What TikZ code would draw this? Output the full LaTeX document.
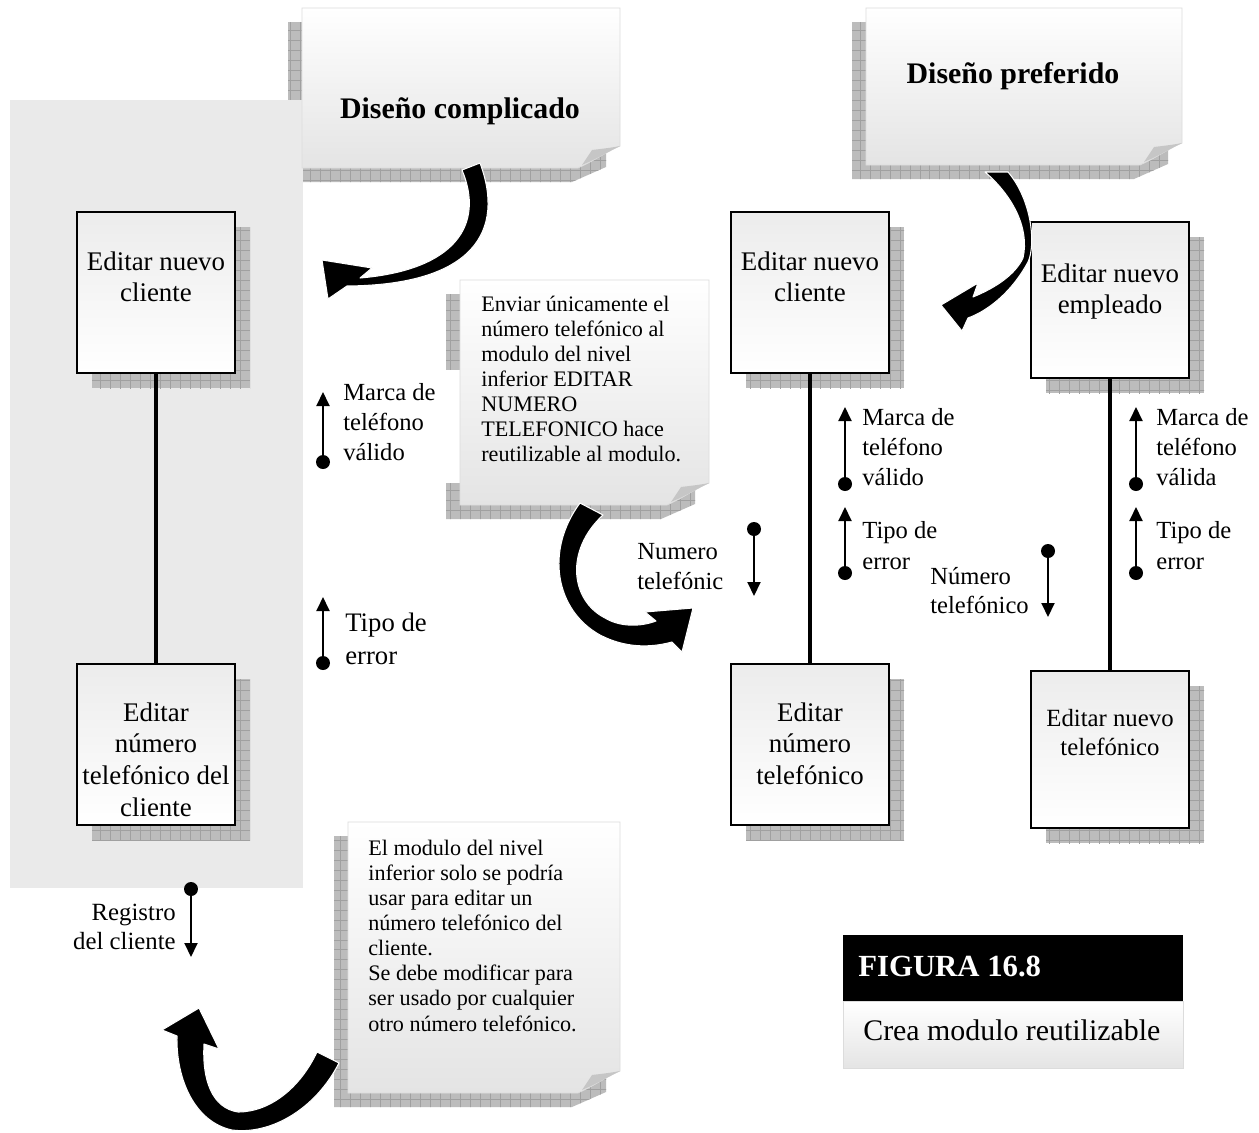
\documentclass[tikz,border=0pt]{standalone}
\usepackage{fontspec}
\setmainfont{Liberation Serif}
\usetikzlibrary{arrows.meta}

\definecolor{panelgray}{RGB}{234,234,234}
\definecolor{meshbase}{RGB}{188,188,188}
\definecolor{meshrule}{RGB}{160,160,160}
\definecolor{sheetedge}{RGB}{220,220,220}
\definecolor{sheetlow}{RGB}{228,228,228}
\definecolor{foldgray}{RGB}{198,198,198}
\definecolor{boxtop}{RGB}{236,236,236}

% hatched drop shadow: grey fill with a 10px mesh, clipped to the given path
\newcommand{\meshpatch}[1]{%
  \fill[meshbase] #1;
  \begin{scope}
    \clip #1;
    \draw[meshrule, line width=0.35pt, step=0.2cm] (0,1133) grid (1259,0);
  \end{scope}}

% shadow of a curled note sheet (offset left and down)
\newcommand{\noteshadow}[4]{%
  \meshpatch{({#1-14},{#2+14}) -- ({#3-14},{#2+14}) -- ({#3-14},{#4-1}) -- ({#3-48},{#4+14}) -- ({#1-14},{#4+14}) -- cycle}}

% note sheet with a curled lower right corner
\newcommand{\notesheet}[4]{%
  \path[sheet] (#1,#2) -- (#3,#2) -- (#3,{#4-22}) .. controls ({#3-14},{#4-16}) and ({#3-28},{#4-6}) .. ({#3-42},{#4}) -- (#1,#4) -- cycle;
  \fill[foldgray] (#3,{#4-22}) .. controls ({#3-10},{#4-20}) and ({#3-20},{#4-19}) .. ({#3-28},{#4-18}) -- ({#3-38},{#4-3}) .. controls ({#3-26},{#4-8}) and ({#3-14},{#4-15}) .. (#3,{#4-22}) -- cycle;}

% shadow of a module box (offset right and down)
\newcommand{\boxshadow}[4]{%
  \meshpatch{({#1+15},{#2+15}) rectangle ({#3+15},{#4+15})}}

\begin{document}
\begin{tikzpicture}[x=0.02cm, y=-0.02cm,
  sheet/.style={top color=white, bottom color=sheetlow, draw=sheetedge, line width=0.4pt},
  modbox/.style={draw=black, line width=1.1pt, top color=boxtop, bottom color=white,
                 minimum width=3.16cm, minimum height=3.22cm, inner sep=0pt},
  link/.style={line width=2.8pt, black},
  dotc/.style={circle, fill=black, inner sep=0pt, minimum size=0.28cm},
  flow/.style={line width=1.1pt, -{Triangle[width=0.26cm,length=0.28cm]}},
  bigarrow/.style={fill=black, draw=white, line width=0.6pt, line join=round},
  boxtext/.style={anchor=north, inner sep=0pt, align=center, font=\fontsize{15.3pt}{18.1pt}\selectfont},
  notetext/.style={anchor=north west, inner sep=0pt, align=left, font=\fontsize{12.6pt}{14.3pt}\selectfont},
  flowtext/.style={anchor=north west, inner sep=0pt, align=left, font=\fontsize{14pt}{17pt}\selectfont},
  headtext/.style={anchor=base, inner sep=0pt, font=\bfseries\fontsize{17pt}{20pt}\selectfont}]

\useasboundingbox (0,0) rectangle (1259,1133);
\fill[white] (0,0) rectangle (1259,1133);

% ---- "Diseño complicado" note and the grey panel of the first design
\noteshadow{302}{8}{620}{168}
\fill[panelgray] (10,100) rectangle (303,888);
\notesheet{302}{8}{620}{168}
\node[headtext] (hcompl) at (460,118) {Diseño complicado};

% ---- "Diseño preferido" note
\noteshadow{866}{8}{1182}{165}
\notesheet{866}{8}{1182}{165}
\node[headtext] (hpref) at (1013,83) {Diseño preferido};

% ---- note about sending only the phone number
\noteshadow{460}{280}{709}{505}
\fill[white] (443,370) rectangle (460,483);
\notesheet{460}{280}{709}{505}
\node[notetext] (nsend) at (481,295.5) {Enviar únicamente el\\número telefónico al\\modulo del nivel\\inferior EDITAR\\NUMERO\\TELEFONICO hace\\reutilizable al modulo.};

% ---- note about the lower level module
\noteshadow{348}{822}{620}{1093}
\notesheet{348}{822}{620}{1093}
\node[notetext] (nlow) at (368,839.5) {El modulo del nivel\\inferior solo se podría\\usar para editar un\\número telefónico del\\cliente.\\Se debe modificar para\\ser usado por cualquier\\otro número telefónico.};

% ---- module boxes
\boxshadow{77}{212}{235}{373}
\boxshadow{77}{664}{235}{825}
\boxshadow{731}{212}{889}{373}
\boxshadow{731}{664}{889}{825}
\boxshadow{1031}{222}{1189}{378}
\boxshadow{1031}{671}{1189}{828}

\node[modbox] (cliA) at (156,292.5) {};
\node[modbox] (telA) at (156,744.5) {};
\node[modbox] (cliB) at (810,292.5) {};
\node[modbox] (telB) at (810,744.5) {};
\node[modbox, minimum height=3.12cm] (empC) at (1110,300) {};
\node[modbox, minimum height=3.14cm] (telC) at (1110,749.5) {};

\draw[link] (cliA.south) -- (telA.north);
\draw[link] (cliB.south) -- (telB.north);
\draw[link] (empC.south) -- (telC.north);

\node[boxtext] (tcliA) at (156,251) {Editar nuevo\\cliente};
\node[boxtext] (ttelA) at (156,702) {Editar\\número\\telefónico del\\cliente};
\node[boxtext] (tcliB) at (810,251) {Editar nuevo\\cliente};
\node[boxtext] (ttelB) at (810,702) {Editar\\número\\telefónico};
\node[boxtext] (tempC) at (1110,263) {Editar nuevo\\empleado};
\node[boxtext, font=\fontsize{14.1pt}{16.4pt}\selectfont] (ttelC) at (1110,709) {Editar nuevo\\telefónico};

% ---- data couples, first design
\node[dotc] (dA1) at (323,462) {};
\coordinate (eA1) at (323,392);
\draw[flow] (dA1) -- (eA1);
\node[flowtext] (lA1) at (343,383.5) {Marca de\\teléfono\\válido};

\node[dotc] (dA2) at (323,663) {};
\coordinate (eA2) at (323,597);
\draw[flow] (dA2) -- (eA2);
\node[flowtext, font=\fontsize{15.2pt}{18.7pt}\selectfont] (lA2) at (345,613) {Tipo de\\error};

\node[dotc] (dA3) at (191,889) {};
\coordinate (eA3) at (191,957);
\draw[flow] (dA3) -- (eA3);
\node[flowtext, anchor=north east, align=right, font=\fontsize{14.1pt}{16.4pt}\selectfont] (lA3) at (176,904) {Registro\\del cliente};

% ---- data couples, preferred design
\node[dotc] (dB0) at (754,529) {};
\coordinate (eB0) at (754,596);
\draw[flow] (dB0) -- (eB0);
\begin{scope}
  \clip (630,530) rectangle (723,589);
  \node[flowtext] (lB0) at (637,543.5) {Numero\\telefónic};
\end{scope}

\node[dotc] (dB1) at (845,484) {};
\coordinate (eB1) at (845,407);
\draw[flow] (dB1) -- (eB1);
\node[flowtext] (lB1) at (862,408.5) {Marca de\\teléfono\\válido};

\node[dotc] (dB2) at (845,573) {};
\coordinate (eB2) at (845,507);
\draw[flow] (dB2) -- (eB2);
\node[flowtext, font=\fontsize{14pt}{17.6pt}\selectfont] (lB2) at (862,521.5) {Tipo de\\error};

\node[dotc] (dC0) at (1048,551) {};
\coordinate (eC0) at (1048,617);
\draw[flow] (dC0) -- (eC0);
\node[flowtext, font=\fontsize{14pt}{16.4pt}\selectfont] (lC0) at (930,567.5) {Número\\telefónico};

\node[dotc] (dC1) at (1136,484) {};
\coordinate (eC1) at (1136,407);
\draw[flow] (dC1) -- (eC1);
\node[flowtext] (lC1) at (1156,408.5) {Marca de\\teléfono\\válida};

\node[dotc] (dC2) at (1136,573) {};
\coordinate (eC2) at (1136,507);
\draw[flow] (dC2) -- (eC2);
\node[flowtext, font=\fontsize{14pt}{17.6pt}\selectfont] (lC2) at (1156,521.5) {Tipo de\\error};

% ---- curved block arrows
\path[bigarrow] (462,170) -- (480,163) .. controls (505,230) and (475,285) .. (347,286)
  -- (328,299) -- (322,260) -- (372,268) -- (360,278)
  .. controls (455,270) and (485,225) .. (462,170) -- cycle;

\path[bigarrow] (985,172) -- (1008,172) .. controls (1032,200) and (1036,245) .. (1028,262)
  .. controls (1013,290) and (990,310) .. (968,318)
  -- (962,331) -- (941,305) -- (978,283) -- (973,297)
  .. controls (995,288) and (1015,275) .. (1023,258)
  .. controls (1030,228) and (1012,195) .. (985,172) -- cycle;

\path[bigarrow] (580,503) -- (603,515) .. controls (565,550) and (570,600) .. (605,618)
  .. controls (620,627) and (640,627) .. (656,621)
  -- (645,612) -- (693,608) -- (682,652) -- (672,642)
  .. controls (650,648) and (625,648) .. (600,635)
  .. controls (555,610) and (545,550) .. (580,503) -- cycle;

\path[bigarrow] (317,1052) -- (339,1063) .. controls (315,1110) and (270,1135) .. (232,1130)
  .. controls (195,1122) and (176,1080) .. (177,1036)
  -- (162,1030) -- (199,1008) -- (219,1049) -- (204,1044)
  .. controls (202,1080) and (212,1108) .. (238,1112)
  .. controls (270,1112) and (300,1088) .. (317,1052) -- cycle;

% ---- figure caption
\node[fill=black, minimum width=6.8cm, minimum height=1.32cm, inner sep=0pt] (figbar) at (1013,968) {};
\node[anchor=base west, inner sep=0pt, text=white, font=\bfseries\fontsize{17.5pt}{20pt}\selectfont] (figno) at (858,976) {FIGURA 16.8};
\node[top color=white, bottom color=sheetlow, draw=sheetedge, line width=0.4pt,
      minimum width=6.8cm, minimum height=1.34cm, inner sep=0pt, anchor=north] (figcap) at (figbar.south) {};
\node[anchor=base west, inner sep=0pt, font=\fontsize{17pt}{20pt}\selectfont] (figtxt) at (863,1040) {Crea modulo reutilizable};

\end{tikzpicture}
\end{document}
